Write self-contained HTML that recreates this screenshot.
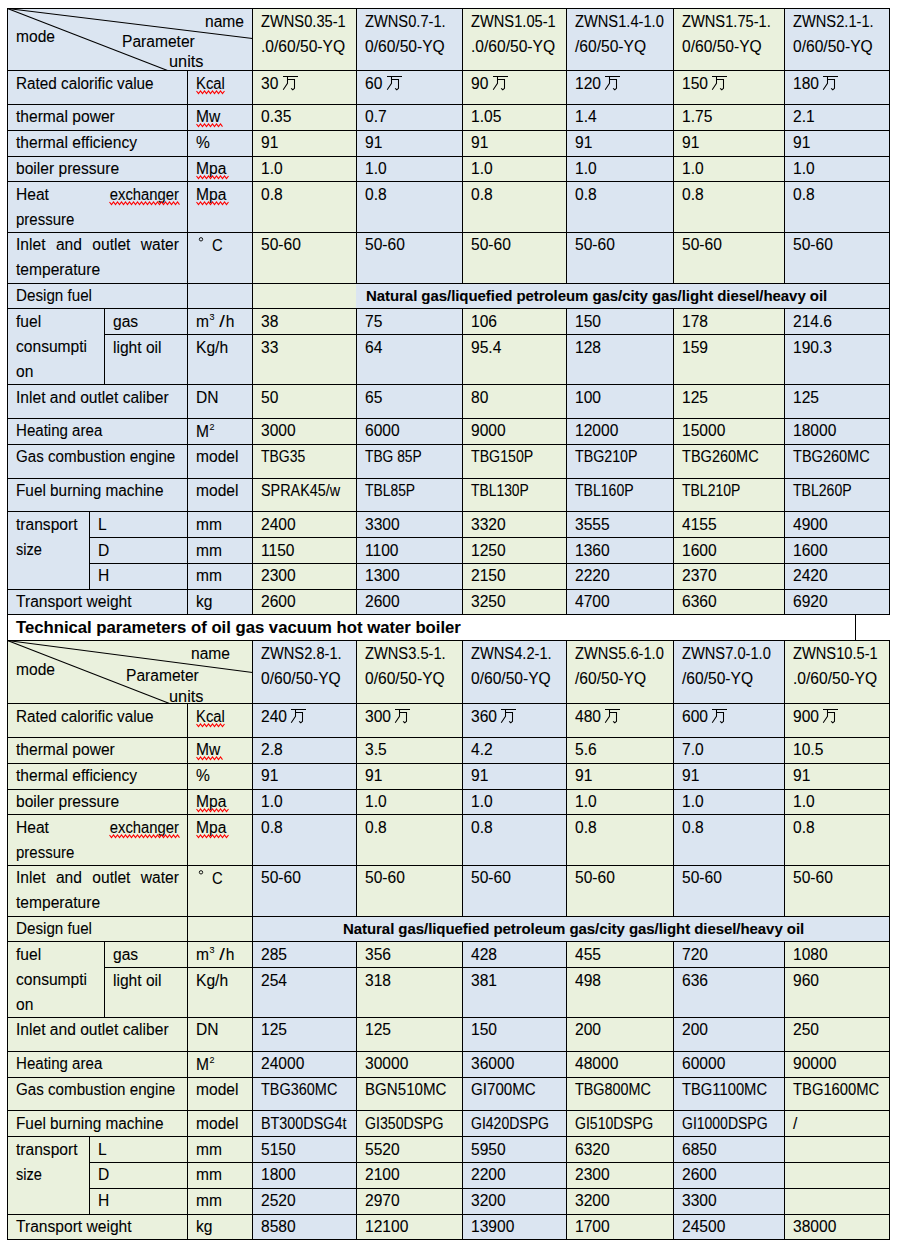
<!DOCTYPE html>
<html><head><meta charset="utf-8"><title>Technical parameters of oil gas vacuum hot water boiler</title><style>
html,body{margin:0;padding:0;background:#fff}
body{width:900px;height:1246px;position:relative;overflow:hidden}
.b,.l,.t,.tb,.z{position:absolute}
.l{background:#000}
.t,.tb{font-family:"Liberation Sans",sans-serif;font-size:15.6px;line-height:25px;white-space:nowrap;color:#000;-webkit-text-stroke:0.08px #000}
.tb{font-weight:bold;font-size:15px}
.z{overflow:visible}
</style></head><body>
<div class="b" style="left:7px;top:8px;width:245px;height:606px;background:#dbe5f1"></div>
<div class="b" style="left:252px;top:8px;width:104px;height:606px;background:#eaf1dd"></div>
<div class="b" style="left:356px;top:8px;width:106px;height:606px;background:#dbe5f1"></div>
<div class="b" style="left:462px;top:8px;width:104px;height:606px;background:#eaf1dd"></div>
<div class="b" style="left:566px;top:8px;width:107px;height:606px;background:#dbe5f1"></div>
<div class="b" style="left:673px;top:8px;width:111px;height:606px;background:#eaf1dd"></div>
<div class="b" style="left:784px;top:8px;width:105px;height:606px;background:#dbe5f1"></div>
<div class="b" style="left:356px;top:284px;width:533px;height:24px;background:#dbe5f1"></div>
<div class="l" style="left:7px;top:8px;width:883px;height:1px"></div>
<div class="l" style="left:7px;top:70px;width:883px;height:1px"></div>
<div class="l" style="left:7px;top:104px;width:883px;height:1px"></div>
<div class="l" style="left:7px;top:130px;width:883px;height:1px"></div>
<div class="l" style="left:7px;top:156px;width:883px;height:1px"></div>
<div class="l" style="left:7px;top:181px;width:883px;height:1px"></div>
<div class="l" style="left:7px;top:232px;width:883px;height:1px"></div>
<div class="l" style="left:7px;top:283px;width:883px;height:1px"></div>
<div class="l" style="left:7px;top:308px;width:883px;height:1px"></div>
<div class="l" style="left:7px;top:384px;width:883px;height:1px"></div>
<div class="l" style="left:7px;top:418px;width:883px;height:1px"></div>
<div class="l" style="left:7px;top:444px;width:883px;height:1px"></div>
<div class="l" style="left:7px;top:478px;width:883px;height:1px"></div>
<div class="l" style="left:7px;top:511px;width:883px;height:1px"></div>
<div class="l" style="left:7px;top:589px;width:883px;height:1px"></div>
<div class="l" style="left:7px;top:614px;width:883px;height:1px"></div>
<div class="l" style="left:104px;top:334px;width:786px;height:1px"></div>
<div class="l" style="left:89px;top:537px;width:801px;height:1px"></div>
<div class="l" style="left:89px;top:563px;width:801px;height:1px"></div>
<div class="l" style="left:7px;top:8px;width:1px;height:607px"></div>
<div class="l" style="left:889px;top:8px;width:1px;height:607px"></div>
<div class="l" style="left:252px;top:8px;width:1px;height:63px"></div>
<div class="l" style="left:356px;top:8px;width:1px;height:63px"></div>
<div class="l" style="left:462px;top:8px;width:1px;height:63px"></div>
<div class="l" style="left:566px;top:8px;width:1px;height:63px"></div>
<div class="l" style="left:673px;top:8px;width:1px;height:63px"></div>
<div class="l" style="left:784px;top:8px;width:1px;height:63px"></div>
<div class="l" style="left:187px;top:70px;width:1px;height:35px"></div>
<div class="l" style="left:252px;top:70px;width:1px;height:35px"></div>
<div class="l" style="left:356px;top:70px;width:1px;height:35px"></div>
<div class="l" style="left:462px;top:70px;width:1px;height:35px"></div>
<div class="l" style="left:566px;top:70px;width:1px;height:35px"></div>
<div class="l" style="left:673px;top:70px;width:1px;height:35px"></div>
<div class="l" style="left:784px;top:70px;width:1px;height:35px"></div>
<div class="l" style="left:187px;top:104px;width:1px;height:27px"></div>
<div class="l" style="left:252px;top:104px;width:1px;height:27px"></div>
<div class="l" style="left:356px;top:104px;width:1px;height:27px"></div>
<div class="l" style="left:462px;top:104px;width:1px;height:27px"></div>
<div class="l" style="left:566px;top:104px;width:1px;height:27px"></div>
<div class="l" style="left:673px;top:104px;width:1px;height:27px"></div>
<div class="l" style="left:784px;top:104px;width:1px;height:27px"></div>
<div class="l" style="left:187px;top:130px;width:1px;height:27px"></div>
<div class="l" style="left:252px;top:130px;width:1px;height:27px"></div>
<div class="l" style="left:356px;top:130px;width:1px;height:27px"></div>
<div class="l" style="left:462px;top:130px;width:1px;height:27px"></div>
<div class="l" style="left:566px;top:130px;width:1px;height:27px"></div>
<div class="l" style="left:673px;top:130px;width:1px;height:27px"></div>
<div class="l" style="left:784px;top:130px;width:1px;height:27px"></div>
<div class="l" style="left:187px;top:156px;width:1px;height:26px"></div>
<div class="l" style="left:252px;top:156px;width:1px;height:26px"></div>
<div class="l" style="left:356px;top:156px;width:1px;height:26px"></div>
<div class="l" style="left:462px;top:156px;width:1px;height:26px"></div>
<div class="l" style="left:566px;top:156px;width:1px;height:26px"></div>
<div class="l" style="left:673px;top:156px;width:1px;height:26px"></div>
<div class="l" style="left:784px;top:156px;width:1px;height:26px"></div>
<div class="l" style="left:187px;top:181px;width:1px;height:52px"></div>
<div class="l" style="left:252px;top:181px;width:1px;height:52px"></div>
<div class="l" style="left:356px;top:181px;width:1px;height:52px"></div>
<div class="l" style="left:462px;top:181px;width:1px;height:52px"></div>
<div class="l" style="left:566px;top:181px;width:1px;height:52px"></div>
<div class="l" style="left:673px;top:181px;width:1px;height:52px"></div>
<div class="l" style="left:784px;top:181px;width:1px;height:52px"></div>
<div class="l" style="left:187px;top:232px;width:1px;height:52px"></div>
<div class="l" style="left:252px;top:232px;width:1px;height:52px"></div>
<div class="l" style="left:356px;top:232px;width:1px;height:52px"></div>
<div class="l" style="left:462px;top:232px;width:1px;height:52px"></div>
<div class="l" style="left:566px;top:232px;width:1px;height:52px"></div>
<div class="l" style="left:673px;top:232px;width:1px;height:52px"></div>
<div class="l" style="left:784px;top:232px;width:1px;height:52px"></div>
<div class="l" style="left:187px;top:283px;width:1px;height:26px"></div>
<div class="l" style="left:252px;top:283px;width:1px;height:26px"></div>
<div class="l" style="left:187px;top:308px;width:1px;height:77px"></div>
<div class="l" style="left:252px;top:308px;width:1px;height:77px"></div>
<div class="l" style="left:356px;top:308px;width:1px;height:77px"></div>
<div class="l" style="left:462px;top:308px;width:1px;height:77px"></div>
<div class="l" style="left:566px;top:308px;width:1px;height:77px"></div>
<div class="l" style="left:673px;top:308px;width:1px;height:77px"></div>
<div class="l" style="left:784px;top:308px;width:1px;height:77px"></div>
<div class="l" style="left:104px;top:308px;width:1px;height:77px"></div>
<div class="l" style="left:187px;top:384px;width:1px;height:35px"></div>
<div class="l" style="left:252px;top:384px;width:1px;height:35px"></div>
<div class="l" style="left:356px;top:384px;width:1px;height:35px"></div>
<div class="l" style="left:462px;top:384px;width:1px;height:35px"></div>
<div class="l" style="left:566px;top:384px;width:1px;height:35px"></div>
<div class="l" style="left:673px;top:384px;width:1px;height:35px"></div>
<div class="l" style="left:784px;top:384px;width:1px;height:35px"></div>
<div class="l" style="left:187px;top:418px;width:1px;height:27px"></div>
<div class="l" style="left:252px;top:418px;width:1px;height:27px"></div>
<div class="l" style="left:356px;top:418px;width:1px;height:27px"></div>
<div class="l" style="left:462px;top:418px;width:1px;height:27px"></div>
<div class="l" style="left:566px;top:418px;width:1px;height:27px"></div>
<div class="l" style="left:673px;top:418px;width:1px;height:27px"></div>
<div class="l" style="left:784px;top:418px;width:1px;height:27px"></div>
<div class="l" style="left:187px;top:444px;width:1px;height:35px"></div>
<div class="l" style="left:252px;top:444px;width:1px;height:35px"></div>
<div class="l" style="left:356px;top:444px;width:1px;height:35px"></div>
<div class="l" style="left:462px;top:444px;width:1px;height:35px"></div>
<div class="l" style="left:566px;top:444px;width:1px;height:35px"></div>
<div class="l" style="left:673px;top:444px;width:1px;height:35px"></div>
<div class="l" style="left:784px;top:444px;width:1px;height:35px"></div>
<div class="l" style="left:187px;top:478px;width:1px;height:34px"></div>
<div class="l" style="left:252px;top:478px;width:1px;height:34px"></div>
<div class="l" style="left:356px;top:478px;width:1px;height:34px"></div>
<div class="l" style="left:462px;top:478px;width:1px;height:34px"></div>
<div class="l" style="left:566px;top:478px;width:1px;height:34px"></div>
<div class="l" style="left:673px;top:478px;width:1px;height:34px"></div>
<div class="l" style="left:784px;top:478px;width:1px;height:34px"></div>
<div class="l" style="left:187px;top:511px;width:1px;height:79px"></div>
<div class="l" style="left:252px;top:511px;width:1px;height:79px"></div>
<div class="l" style="left:356px;top:511px;width:1px;height:79px"></div>
<div class="l" style="left:462px;top:511px;width:1px;height:79px"></div>
<div class="l" style="left:566px;top:511px;width:1px;height:79px"></div>
<div class="l" style="left:673px;top:511px;width:1px;height:79px"></div>
<div class="l" style="left:784px;top:511px;width:1px;height:79px"></div>
<div class="l" style="left:89px;top:511px;width:1px;height:79px"></div>
<div class="l" style="left:187px;top:589px;width:1px;height:26px"></div>
<div class="l" style="left:252px;top:589px;width:1px;height:26px"></div>
<div class="l" style="left:356px;top:589px;width:1px;height:26px"></div>
<div class="l" style="left:462px;top:589px;width:1px;height:26px"></div>
<div class="l" style="left:566px;top:589px;width:1px;height:26px"></div>
<div class="l" style="left:673px;top:589px;width:1px;height:26px"></div>
<div class="l" style="left:784px;top:589px;width:1px;height:26px"></div>
<div class="l" style="left:7px;top:614px;width:1px;height:27px"></div>
<div class="l" style="left:855px;top:614px;width:1px;height:27px"></div>
<div class="b" style="left:7px;top:640px;width:245px;height:599px;background:#eaf1dd"></div>
<div class="b" style="left:252px;top:640px;width:104px;height:599px;background:#dbe5f1"></div>
<div class="b" style="left:356px;top:640px;width:106px;height:599px;background:#eaf1dd"></div>
<div class="b" style="left:462px;top:640px;width:104px;height:599px;background:#dbe5f1"></div>
<div class="b" style="left:566px;top:640px;width:107px;height:599px;background:#eaf1dd"></div>
<div class="b" style="left:673px;top:640px;width:111px;height:599px;background:#dbe5f1"></div>
<div class="b" style="left:784px;top:640px;width:105px;height:599px;background:#eaf1dd"></div>
<div class="b" style="left:253px;top:917px;width:636px;height:24px;background:#dbe5f1"></div>
<div class="l" style="left:7px;top:640px;width:883px;height:1px"></div>
<div class="l" style="left:7px;top:703px;width:883px;height:1px"></div>
<div class="l" style="left:7px;top:737px;width:883px;height:1px"></div>
<div class="l" style="left:7px;top:763px;width:883px;height:1px"></div>
<div class="l" style="left:7px;top:789px;width:883px;height:1px"></div>
<div class="l" style="left:7px;top:814px;width:883px;height:1px"></div>
<div class="l" style="left:7px;top:865px;width:883px;height:1px"></div>
<div class="l" style="left:7px;top:916px;width:883px;height:1px"></div>
<div class="l" style="left:7px;top:941px;width:883px;height:1px"></div>
<div class="l" style="left:7px;top:1017px;width:883px;height:1px"></div>
<div class="l" style="left:7px;top:1051px;width:883px;height:1px"></div>
<div class="l" style="left:7px;top:1077px;width:883px;height:1px"></div>
<div class="l" style="left:7px;top:1110px;width:883px;height:1px"></div>
<div class="l" style="left:7px;top:1136px;width:883px;height:1px"></div>
<div class="l" style="left:7px;top:1214px;width:883px;height:1px"></div>
<div class="l" style="left:7px;top:1239px;width:883px;height:1px"></div>
<div class="l" style="left:104px;top:967px;width:786px;height:1px"></div>
<div class="l" style="left:89px;top:1162px;width:801px;height:1px"></div>
<div class="l" style="left:89px;top:1188px;width:801px;height:1px"></div>
<div class="l" style="left:7px;top:640px;width:1px;height:600px"></div>
<div class="l" style="left:889px;top:640px;width:1px;height:600px"></div>
<div class="l" style="left:252px;top:640px;width:1px;height:64px"></div>
<div class="l" style="left:356px;top:640px;width:1px;height:64px"></div>
<div class="l" style="left:462px;top:640px;width:1px;height:64px"></div>
<div class="l" style="left:566px;top:640px;width:1px;height:64px"></div>
<div class="l" style="left:673px;top:640px;width:1px;height:64px"></div>
<div class="l" style="left:784px;top:640px;width:1px;height:64px"></div>
<div class="l" style="left:187px;top:703px;width:1px;height:35px"></div>
<div class="l" style="left:252px;top:703px;width:1px;height:35px"></div>
<div class="l" style="left:356px;top:703px;width:1px;height:35px"></div>
<div class="l" style="left:462px;top:703px;width:1px;height:35px"></div>
<div class="l" style="left:566px;top:703px;width:1px;height:35px"></div>
<div class="l" style="left:673px;top:703px;width:1px;height:35px"></div>
<div class="l" style="left:784px;top:703px;width:1px;height:35px"></div>
<div class="l" style="left:187px;top:737px;width:1px;height:27px"></div>
<div class="l" style="left:252px;top:737px;width:1px;height:27px"></div>
<div class="l" style="left:356px;top:737px;width:1px;height:27px"></div>
<div class="l" style="left:462px;top:737px;width:1px;height:27px"></div>
<div class="l" style="left:566px;top:737px;width:1px;height:27px"></div>
<div class="l" style="left:673px;top:737px;width:1px;height:27px"></div>
<div class="l" style="left:784px;top:737px;width:1px;height:27px"></div>
<div class="l" style="left:187px;top:763px;width:1px;height:27px"></div>
<div class="l" style="left:252px;top:763px;width:1px;height:27px"></div>
<div class="l" style="left:356px;top:763px;width:1px;height:27px"></div>
<div class="l" style="left:462px;top:763px;width:1px;height:27px"></div>
<div class="l" style="left:566px;top:763px;width:1px;height:27px"></div>
<div class="l" style="left:673px;top:763px;width:1px;height:27px"></div>
<div class="l" style="left:784px;top:763px;width:1px;height:27px"></div>
<div class="l" style="left:187px;top:789px;width:1px;height:26px"></div>
<div class="l" style="left:252px;top:789px;width:1px;height:26px"></div>
<div class="l" style="left:356px;top:789px;width:1px;height:26px"></div>
<div class="l" style="left:462px;top:789px;width:1px;height:26px"></div>
<div class="l" style="left:566px;top:789px;width:1px;height:26px"></div>
<div class="l" style="left:673px;top:789px;width:1px;height:26px"></div>
<div class="l" style="left:784px;top:789px;width:1px;height:26px"></div>
<div class="l" style="left:187px;top:814px;width:1px;height:52px"></div>
<div class="l" style="left:252px;top:814px;width:1px;height:52px"></div>
<div class="l" style="left:356px;top:814px;width:1px;height:52px"></div>
<div class="l" style="left:462px;top:814px;width:1px;height:52px"></div>
<div class="l" style="left:566px;top:814px;width:1px;height:52px"></div>
<div class="l" style="left:673px;top:814px;width:1px;height:52px"></div>
<div class="l" style="left:784px;top:814px;width:1px;height:52px"></div>
<div class="l" style="left:187px;top:865px;width:1px;height:52px"></div>
<div class="l" style="left:252px;top:865px;width:1px;height:52px"></div>
<div class="l" style="left:356px;top:865px;width:1px;height:52px"></div>
<div class="l" style="left:462px;top:865px;width:1px;height:52px"></div>
<div class="l" style="left:566px;top:865px;width:1px;height:52px"></div>
<div class="l" style="left:673px;top:865px;width:1px;height:52px"></div>
<div class="l" style="left:784px;top:865px;width:1px;height:52px"></div>
<div class="l" style="left:187px;top:916px;width:1px;height:26px"></div>
<div class="l" style="left:252px;top:916px;width:1px;height:26px"></div>
<div class="l" style="left:187px;top:941px;width:1px;height:77px"></div>
<div class="l" style="left:252px;top:941px;width:1px;height:77px"></div>
<div class="l" style="left:356px;top:941px;width:1px;height:77px"></div>
<div class="l" style="left:462px;top:941px;width:1px;height:77px"></div>
<div class="l" style="left:566px;top:941px;width:1px;height:77px"></div>
<div class="l" style="left:673px;top:941px;width:1px;height:77px"></div>
<div class="l" style="left:784px;top:941px;width:1px;height:77px"></div>
<div class="l" style="left:104px;top:941px;width:1px;height:77px"></div>
<div class="l" style="left:187px;top:1017px;width:1px;height:35px"></div>
<div class="l" style="left:252px;top:1017px;width:1px;height:35px"></div>
<div class="l" style="left:356px;top:1017px;width:1px;height:35px"></div>
<div class="l" style="left:462px;top:1017px;width:1px;height:35px"></div>
<div class="l" style="left:566px;top:1017px;width:1px;height:35px"></div>
<div class="l" style="left:673px;top:1017px;width:1px;height:35px"></div>
<div class="l" style="left:784px;top:1017px;width:1px;height:35px"></div>
<div class="l" style="left:187px;top:1051px;width:1px;height:27px"></div>
<div class="l" style="left:252px;top:1051px;width:1px;height:27px"></div>
<div class="l" style="left:356px;top:1051px;width:1px;height:27px"></div>
<div class="l" style="left:462px;top:1051px;width:1px;height:27px"></div>
<div class="l" style="left:566px;top:1051px;width:1px;height:27px"></div>
<div class="l" style="left:673px;top:1051px;width:1px;height:27px"></div>
<div class="l" style="left:784px;top:1051px;width:1px;height:27px"></div>
<div class="l" style="left:187px;top:1077px;width:1px;height:34px"></div>
<div class="l" style="left:252px;top:1077px;width:1px;height:34px"></div>
<div class="l" style="left:356px;top:1077px;width:1px;height:34px"></div>
<div class="l" style="left:462px;top:1077px;width:1px;height:34px"></div>
<div class="l" style="left:566px;top:1077px;width:1px;height:34px"></div>
<div class="l" style="left:673px;top:1077px;width:1px;height:34px"></div>
<div class="l" style="left:784px;top:1077px;width:1px;height:34px"></div>
<div class="l" style="left:187px;top:1110px;width:1px;height:27px"></div>
<div class="l" style="left:252px;top:1110px;width:1px;height:27px"></div>
<div class="l" style="left:356px;top:1110px;width:1px;height:27px"></div>
<div class="l" style="left:462px;top:1110px;width:1px;height:27px"></div>
<div class="l" style="left:566px;top:1110px;width:1px;height:27px"></div>
<div class="l" style="left:673px;top:1110px;width:1px;height:27px"></div>
<div class="l" style="left:784px;top:1110px;width:1px;height:27px"></div>
<div class="l" style="left:187px;top:1136px;width:1px;height:79px"></div>
<div class="l" style="left:252px;top:1136px;width:1px;height:79px"></div>
<div class="l" style="left:356px;top:1136px;width:1px;height:79px"></div>
<div class="l" style="left:462px;top:1136px;width:1px;height:79px"></div>
<div class="l" style="left:566px;top:1136px;width:1px;height:79px"></div>
<div class="l" style="left:673px;top:1136px;width:1px;height:79px"></div>
<div class="l" style="left:784px;top:1136px;width:1px;height:79px"></div>
<div class="l" style="left:89px;top:1136px;width:1px;height:79px"></div>
<div class="l" style="left:187px;top:1214px;width:1px;height:26px"></div>
<div class="l" style="left:252px;top:1214px;width:1px;height:26px"></div>
<div class="l" style="left:356px;top:1214px;width:1px;height:26px"></div>
<div class="l" style="left:462px;top:1214px;width:1px;height:26px"></div>
<div class="l" style="left:566px;top:1214px;width:1px;height:26px"></div>
<div class="l" style="left:673px;top:1214px;width:1px;height:26px"></div>
<div class="l" style="left:784px;top:1214px;width:1px;height:26px"></div>
<svg class="z" style="left:7px;top:8px" width="246" height="63"><line x1="0.5" y1="0.5" x2="245.5" y2="30.5" stroke="#000" stroke-width="1.1"/><line x1="0.5" y1="0.5" x2="160.5" y2="62.5" stroke="#000" stroke-width="1.1"/></svg>
<div class="t" style="left:205px;top:9px;">name</div>
<div class="t" style="left:16px;top:24px;">mode</div>
<div class="t" style="left:122px;top:29px;">Parameter</div>
<div class="t" style="left:169px;top:49px;transform:scaleX(1.047);transform-origin:0 0;">units</div>
<div class="t" style="left:261px;top:9px;transform:scaleX(0.94);transform-origin:0 0;">ZWNS0.35-1</div>
<div class="t" style="left:261px;top:34px;">.0/60/50-YQ</div>
<div class="t" style="left:365px;top:9px;transform:scaleX(0.94);transform-origin:0 0;">ZWNS0.7-1.</div>
<div class="t" style="left:365px;top:34px;">0/60/50-YQ</div>
<div class="t" style="left:471px;top:9px;transform:scaleX(0.94);transform-origin:0 0;">ZWNS1.05-1</div>
<div class="t" style="left:471px;top:34px;">.0/60/50-YQ</div>
<div class="t" style="left:575px;top:9px;transform:scaleX(0.94);transform-origin:0 0;">ZWNS1.4-1.0</div>
<div class="t" style="left:575px;top:34px;">/60/50-YQ</div>
<div class="t" style="left:682px;top:9px;transform:scaleX(0.94);transform-origin:0 0;">ZWNS1.75-1.</div>
<div class="t" style="left:682px;top:34px;">0/60/50-YQ</div>
<div class="t" style="left:793px;top:9px;transform:scaleX(0.94);transform-origin:0 0;">ZWNS2.1-1.</div>
<div class="t" style="left:793px;top:34px;">0/60/50-YQ</div>
<div class="t" style="left:16px;top:71px;transform:scaleX(0.98);transform-origin:0 0;">Rated calorific value</div>
<div class="t" style="left:196px;top:71px;transform:scaleX(0.95);transform-origin:0 0;">Kcal</div>
<svg class="z" style="left:196px;top:89px" width="30" height="7"><polyline points="0.5,2.0 2.5,4.6 4.5,2.0 6.5,4.6 8.5,2.0 10.5,4.6 12.5,2.0 14.5,4.6 16.5,2.0 18.5,4.6 20.5,2.0 22.5,4.6 24.5,2.0 26.5,4.6 28.5,2.0" fill="none" stroke="#f00" stroke-width="1.1"/></svg>
<div class="t" style="left:261px;top:71px;">30</div>
<svg class="z" style="left:283px;top:75px" width="17" height="16" viewBox="0 0 17 16"><path d="M0 1.5H15 M4.5 1.5V8.3L0.2 14.7 M4.5 4.5H11.5V13.3L9.8 14.7L8.1 13.3" fill="none" stroke="#000" stroke-width="1.05"/></svg>
<div class="t" style="left:365px;top:71px;">60</div>
<svg class="z" style="left:387px;top:75px" width="17" height="16" viewBox="0 0 17 16"><path d="M0 1.5H15 M4.5 1.5V8.3L0.2 14.7 M4.5 4.5H11.5V13.3L9.8 14.7L8.1 13.3" fill="none" stroke="#000" stroke-width="1.05"/></svg>
<div class="t" style="left:471px;top:71px;">90</div>
<svg class="z" style="left:493px;top:75px" width="17" height="16" viewBox="0 0 17 16"><path d="M0 1.5H15 M4.5 1.5V8.3L0.2 14.7 M4.5 4.5H11.5V13.3L9.8 14.7L8.1 13.3" fill="none" stroke="#000" stroke-width="1.05"/></svg>
<div class="t" style="left:575px;top:71px;">120</div>
<svg class="z" style="left:605px;top:75px" width="17" height="16" viewBox="0 0 17 16"><path d="M0 1.5H15 M4.5 1.5V8.3L0.2 14.7 M4.5 4.5H11.5V13.3L9.8 14.7L8.1 13.3" fill="none" stroke="#000" stroke-width="1.05"/></svg>
<div class="t" style="left:682px;top:71px;">150</div>
<svg class="z" style="left:712px;top:75px" width="17" height="16" viewBox="0 0 17 16"><path d="M0 1.5H15 M4.5 1.5V8.3L0.2 14.7 M4.5 4.5H11.5V13.3L9.8 14.7L8.1 13.3" fill="none" stroke="#000" stroke-width="1.05"/></svg>
<div class="t" style="left:793px;top:71px;">180</div>
<svg class="z" style="left:823px;top:75px" width="17" height="16" viewBox="0 0 17 16"><path d="M0 1.5H15 M4.5 1.5V8.3L0.2 14.7 M4.5 4.5H11.5V13.3L9.8 14.7L8.1 13.3" fill="none" stroke="#000" stroke-width="1.05"/></svg>
<div class="t" style="left:16px;top:104px;">thermal power</div>
<div class="t" style="left:196px;top:104px;">Mw</div>
<svg class="z" style="left:196px;top:122px" width="28" height="7"><polyline points="0.5,2.0 2.5,4.6 4.5,2.0 6.5,4.6 8.5,2.0 10.5,4.6 12.5,2.0 14.5,4.6 16.5,2.0 18.5,4.6 20.5,2.0 22.5,4.6 24.5,2.0 26.5,4.6" fill="none" stroke="#f00" stroke-width="1.1"/></svg>
<div class="t" style="left:261px;top:104px;">0.35</div>
<div class="t" style="left:365px;top:104px;">0.7</div>
<div class="t" style="left:471px;top:104px;">1.05</div>
<div class="t" style="left:575px;top:104px;">1.4</div>
<div class="t" style="left:682px;top:104px;">1.75</div>
<div class="t" style="left:793px;top:104px;">2.1</div>
<div class="t" style="left:16px;top:130px;">thermal efficiency</div>
<div class="t" style="left:196px;top:130px;">%</div>
<div class="t" style="left:261px;top:130px;">91</div>
<div class="t" style="left:365px;top:130px;">91</div>
<div class="t" style="left:471px;top:130px;">91</div>
<div class="t" style="left:575px;top:130px;">91</div>
<div class="t" style="left:682px;top:130px;">91</div>
<div class="t" style="left:793px;top:130px;">91</div>
<div class="t" style="left:16px;top:156px;">boiler pressure</div>
<div class="t" style="left:196px;top:156px;">Mpa</div>
<svg class="z" style="left:196px;top:174px" width="34" height="7"><polyline points="0.5,2.0 2.5,4.6 4.5,2.0 6.5,4.6 8.5,2.0 10.5,4.6 12.5,2.0 14.5,4.6 16.5,2.0 18.5,4.6 20.5,2.0 22.5,4.6 24.5,2.0 26.5,4.6 28.5,2.0 30.5,4.6 32.5,2.0" fill="none" stroke="#f00" stroke-width="1.1"/></svg>
<div class="t" style="left:261px;top:156px;">1.0</div>
<div class="t" style="left:365px;top:156px;">1.0</div>
<div class="t" style="left:471px;top:156px;">1.0</div>
<div class="t" style="left:575px;top:156px;">1.0</div>
<div class="t" style="left:682px;top:156px;">1.0</div>
<div class="t" style="left:793px;top:156px;">1.0</div>
<div class="t" style="left:16px;top:182px;">Heat</div>
<div class="t" style="left:179px;top:182px;transform:translateX(-100%) scaleX(0.95);transform-origin:100% 0;">exchanger</div>
<svg class="z" style="left:109px;top:200px" width="72" height="7"><polyline points="0.5,2.0 2.5,4.6 4.5,2.0 6.5,4.6 8.5,2.0 10.5,4.6 12.5,2.0 14.5,4.6 16.5,2.0 18.5,4.6 20.5,2.0 22.5,4.6 24.5,2.0 26.5,4.6 28.5,2.0 30.5,4.6 32.5,2.0 34.5,4.6 36.5,2.0 38.5,4.6 40.5,2.0 42.5,4.6 44.5,2.0 46.5,4.6 48.5,2.0 50.5,4.6 52.5,2.0 54.5,4.6 56.5,2.0 58.5,4.6 60.5,2.0 62.5,4.6 64.5,2.0 66.5,4.6 68.5,2.0 70.5,4.6" fill="none" stroke="#f00" stroke-width="1.1"/></svg>
<div class="t" style="left:16px;top:207px;transform:scaleX(0.961);transform-origin:0 0;">pressure</div>
<div class="t" style="left:196px;top:182px;">Mpa</div>
<svg class="z" style="left:196px;top:200px" width="34" height="7"><polyline points="0.5,2.0 2.5,4.6 4.5,2.0 6.5,4.6 8.5,2.0 10.5,4.6 12.5,2.0 14.5,4.6 16.5,2.0 18.5,4.6 20.5,2.0 22.5,4.6 24.5,2.0 26.5,4.6 28.5,2.0 30.5,4.6 32.5,2.0" fill="none" stroke="#f00" stroke-width="1.1"/></svg>
<div class="t" style="left:261px;top:182px;">0.8</div>
<div class="t" style="left:365px;top:182px;">0.8</div>
<div class="t" style="left:471px;top:182px;">0.8</div>
<div class="t" style="left:575px;top:182px;">0.8</div>
<div class="t" style="left:682px;top:182px;">0.8</div>
<div class="t" style="left:793px;top:182px;">0.8</div>
<div class="t" style="left:16px;top:232px;width:163px;display:flex;justify-content:space-between"><span>Inlet</span><span>and</span><span>outlet</span><span>water</span></div>
<div class="t" style="left:16px;top:257px;">temperature</div>
<svg class="z" style="left:198px;top:236px" width="7" height="7"><circle cx="3" cy="3.3" r="1.7" fill="none" stroke="#000" stroke-width="0.9"/></svg>
<div class="t" style="left:212px;top:233px;transform:scaleX(0.95);transform-origin:0 0;">C</div>
<div class="t" style="left:261px;top:232px;">50-60</div>
<div class="t" style="left:365px;top:232px;">50-60</div>
<div class="t" style="left:471px;top:232px;">50-60</div>
<div class="t" style="left:575px;top:232px;">50-60</div>
<div class="t" style="left:682px;top:232px;">50-60</div>
<div class="t" style="left:793px;top:232px;">50-60</div>
<div class="t" style="left:16px;top:283px;transform:scaleX(0.974);transform-origin:0 0;">Design fuel</div>
<div class="tb" style="left:366px;top:283px;letter-spacing:-0.06px">Natural gas/liquefied petroleum gas/city gas/light diesel/heavy oil</div>
<div class="t" style="left:16px;top:309px;">fuel</div>
<div class="t" style="left:16px;top:334px;">consumpti</div>
<div class="t" style="left:16px;top:359px;">on</div>
<div class="t" style="left:113px;top:309px;">gas</div>
<div class="t" style="left:196px;top:309px;">m<span style='font-size:9px;position:relative;top:-7px;margin-left:0.5px'>3</span> <span style='display:inline-block;transform:scaleX(1.3);margin:0 1.5px 0 1px'>/</span>h</div>
<div class="t" style="left:261px;top:309px;">38</div>
<div class="t" style="left:365px;top:309px;">75</div>
<div class="t" style="left:471px;top:309px;">106</div>
<div class="t" style="left:575px;top:309px;">150</div>
<div class="t" style="left:682px;top:309px;">178</div>
<div class="t" style="left:793px;top:309px;">214.6</div>
<div class="t" style="left:113px;top:335px;">light oil</div>
<div class="t" style="left:196px;top:335px;">Kg/h</div>
<div class="t" style="left:261px;top:335px;">33</div>
<div class="t" style="left:365px;top:335px;">64</div>
<div class="t" style="left:471px;top:335px;">95.4</div>
<div class="t" style="left:575px;top:335px;">128</div>
<div class="t" style="left:682px;top:335px;">159</div>
<div class="t" style="left:793px;top:335px;">190.3</div>
<div class="t" style="left:16px;top:385px;">Inlet and outlet caliber</div>
<div class="t" style="left:196px;top:385px;">DN</div>
<div class="t" style="left:261px;top:385px;">50</div>
<div class="t" style="left:365px;top:385px;">65</div>
<div class="t" style="left:471px;top:385px;">80</div>
<div class="t" style="left:575px;top:385px;">100</div>
<div class="t" style="left:682px;top:385px;">125</div>
<div class="t" style="left:793px;top:385px;">125</div>
<div class="t" style="left:16px;top:418px;transform:scaleX(0.966);transform-origin:0 0;">Heating area</div>
<div class="t" style="left:196px;top:419px;">M<span style='font-size:9px;position:relative;top:-7px;margin-left:0.5px'>2</span></div>
<div class="t" style="left:261px;top:418px;">3000</div>
<div class="t" style="left:365px;top:418px;">6000</div>
<div class="t" style="left:471px;top:418px;">9000</div>
<div class="t" style="left:575px;top:418px;">12000</div>
<div class="t" style="left:682px;top:418px;">15000</div>
<div class="t" style="left:793px;top:418px;">18000</div>
<div class="t" style="left:16px;top:444px;transform:scaleX(0.972);transform-origin:0 0;">Gas combustion engine</div>
<div class="t" style="left:196px;top:444px;">model</div>
<div class="t" style="left:261px;top:444px;transform:scaleX(0.894);transform-origin:0 0;">TBG35</div>
<div class="t" style="left:365px;top:444px;transform:scaleX(0.883);transform-origin:0 0;">TBG 85P</div>
<div class="t" style="left:471px;top:444px;transform:scaleX(0.909);transform-origin:0 0;">TBG150P</div>
<div class="t" style="left:575px;top:444px;transform:scaleX(0.913);transform-origin:0 0;">TBG210P</div>
<div class="t" style="left:682px;top:444px;transform:scaleX(0.932);transform-origin:0 0;">TBG260MC</div>
<div class="t" style="left:793px;top:444px;transform:scaleX(0.932);transform-origin:0 0;">TBG260MC</div>
<div class="t" style="left:16px;top:478px;transform:scaleX(0.983);transform-origin:0 0;">Fuel burning machine</div>
<div class="t" style="left:196px;top:478px;">model</div>
<div class="t" style="left:261px;top:478px;transform:scaleX(0.922);transform-origin:0 0;">SPRAK45/w</div>
<div class="t" style="left:365px;top:478px;transform:scaleX(0.889);transform-origin:0 0;">TBL85P</div>
<div class="t" style="left:471px;top:478px;transform:scaleX(0.889);transform-origin:0 0;">TBL130P</div>
<div class="t" style="left:575px;top:478px;transform:scaleX(0.902);transform-origin:0 0;">TBL160P</div>
<div class="t" style="left:682px;top:478px;transform:scaleX(0.897);transform-origin:0 0;">TBL210P</div>
<div class="t" style="left:793px;top:478px;transform:scaleX(0.902);transform-origin:0 0;">TBL260P</div>
<div class="t" style="left:16px;top:512px;">transport</div>
<div class="t" style="left:16px;top:537px;transform:scaleX(0.935);transform-origin:0 0;">size</div>
<div class="t" style="left:98px;top:512px;">L</div>
<div class="t" style="left:196px;top:512px;">mm</div>
<div class="t" style="left:261px;top:512px;">2400</div>
<div class="t" style="left:365px;top:512px;">3300</div>
<div class="t" style="left:471px;top:512px;">3320</div>
<div class="t" style="left:575px;top:512px;">3555</div>
<div class="t" style="left:682px;top:512px;">4155</div>
<div class="t" style="left:793px;top:512px;">4900</div>
<div class="t" style="left:98px;top:538px;">D</div>
<div class="t" style="left:196px;top:538px;">mm</div>
<div class="t" style="left:261px;top:538px;">1150</div>
<div class="t" style="left:365px;top:538px;">1100</div>
<div class="t" style="left:471px;top:538px;">1250</div>
<div class="t" style="left:575px;top:538px;">1360</div>
<div class="t" style="left:682px;top:538px;">1600</div>
<div class="t" style="left:793px;top:538px;">1600</div>
<div class="t" style="left:98px;top:563px;">H</div>
<div class="t" style="left:196px;top:563px;">mm</div>
<div class="t" style="left:261px;top:563px;">2300</div>
<div class="t" style="left:365px;top:563px;">1300</div>
<div class="t" style="left:471px;top:563px;">2150</div>
<div class="t" style="left:575px;top:563px;">2220</div>
<div class="t" style="left:682px;top:563px;">2370</div>
<div class="t" style="left:793px;top:563px;">2420</div>
<div class="t" style="left:16px;top:589px;">Transport weight</div>
<div class="t" style="left:196px;top:589px;">kg</div>
<div class="t" style="left:261px;top:589px;">2600</div>
<div class="t" style="left:365px;top:589px;">2600</div>
<div class="t" style="left:471px;top:589px;">3250</div>
<div class="t" style="left:575px;top:589px;">4700</div>
<div class="t" style="left:682px;top:589px;">6360</div>
<div class="t" style="left:793px;top:589px;">6920</div>
<div class="tb" style="left:16px;top:615px;font-size:16.7px">Technical parameters of oil gas vacuum hot water boiler</div>
<svg class="z" style="left:7px;top:640px" width="246" height="64"><line x1="0.5" y1="0.5" x2="245.5" y2="32.5" stroke="#000" stroke-width="1.1"/><line x1="0.5" y1="0.5" x2="162.5" y2="63.5" stroke="#000" stroke-width="1.1"/></svg>
<div class="t" style="left:191px;top:641px;">name</div>
<div class="t" style="left:16px;top:657px;">mode</div>
<div class="t" style="left:126px;top:663px;">Parameter</div>
<div class="t" style="left:169px;top:684px;transform:scaleX(1.047);transform-origin:0 0;">units</div>
<div class="t" style="left:261px;top:641px;transform:scaleX(0.94);transform-origin:0 0;">ZWNS2.8-1.</div>
<div class="t" style="left:261px;top:666px;">0/60/50-YQ</div>
<div class="t" style="left:365px;top:641px;transform:scaleX(0.94);transform-origin:0 0;">ZWNS3.5-1.</div>
<div class="t" style="left:365px;top:666px;">0/60/50-YQ</div>
<div class="t" style="left:471px;top:641px;transform:scaleX(0.94);transform-origin:0 0;">ZWNS4.2-1.</div>
<div class="t" style="left:471px;top:666px;">0/60/50-YQ</div>
<div class="t" style="left:575px;top:641px;transform:scaleX(0.94);transform-origin:0 0;">ZWNS5.6-1.0</div>
<div class="t" style="left:575px;top:666px;">/60/50-YQ</div>
<div class="t" style="left:682px;top:641px;transform:scaleX(0.94);transform-origin:0 0;">ZWNS7.0-1.0</div>
<div class="t" style="left:682px;top:666px;">/60/50-YQ</div>
<div class="t" style="left:793px;top:641px;transform:scaleX(0.94);transform-origin:0 0;">ZWNS10.5-1</div>
<div class="t" style="left:793px;top:666px;">.0/60/50-YQ</div>
<div class="t" style="left:16px;top:704px;transform:scaleX(0.98);transform-origin:0 0;">Rated calorific value</div>
<div class="t" style="left:196px;top:704px;transform:scaleX(0.95);transform-origin:0 0;">Kcal</div>
<svg class="z" style="left:196px;top:722px" width="30" height="7"><polyline points="0.5,2.0 2.5,4.6 4.5,2.0 6.5,4.6 8.5,2.0 10.5,4.6 12.5,2.0 14.5,4.6 16.5,2.0 18.5,4.6 20.5,2.0 22.5,4.6 24.5,2.0 26.5,4.6 28.5,2.0" fill="none" stroke="#f00" stroke-width="1.1"/></svg>
<div class="t" style="left:261px;top:704px;">240</div>
<svg class="z" style="left:291px;top:708px" width="17" height="16" viewBox="0 0 17 16"><path d="M0 1.5H15 M4.5 1.5V8.3L0.2 14.7 M4.5 4.5H11.5V13.3L9.8 14.7L8.1 13.3" fill="none" stroke="#000" stroke-width="1.05"/></svg>
<div class="t" style="left:365px;top:704px;">300</div>
<svg class="z" style="left:395px;top:708px" width="17" height="16" viewBox="0 0 17 16"><path d="M0 1.5H15 M4.5 1.5V8.3L0.2 14.7 M4.5 4.5H11.5V13.3L9.8 14.7L8.1 13.3" fill="none" stroke="#000" stroke-width="1.05"/></svg>
<div class="t" style="left:471px;top:704px;">360</div>
<svg class="z" style="left:501px;top:708px" width="17" height="16" viewBox="0 0 17 16"><path d="M0 1.5H15 M4.5 1.5V8.3L0.2 14.7 M4.5 4.5H11.5V13.3L9.8 14.7L8.1 13.3" fill="none" stroke="#000" stroke-width="1.05"/></svg>
<div class="t" style="left:575px;top:704px;">480</div>
<svg class="z" style="left:605px;top:708px" width="17" height="16" viewBox="0 0 17 16"><path d="M0 1.5H15 M4.5 1.5V8.3L0.2 14.7 M4.5 4.5H11.5V13.3L9.8 14.7L8.1 13.3" fill="none" stroke="#000" stroke-width="1.05"/></svg>
<div class="t" style="left:682px;top:704px;">600</div>
<svg class="z" style="left:712px;top:708px" width="17" height="16" viewBox="0 0 17 16"><path d="M0 1.5H15 M4.5 1.5V8.3L0.2 14.7 M4.5 4.5H11.5V13.3L9.8 14.7L8.1 13.3" fill="none" stroke="#000" stroke-width="1.05"/></svg>
<div class="t" style="left:793px;top:704px;">900</div>
<svg class="z" style="left:823px;top:708px" width="17" height="16" viewBox="0 0 17 16"><path d="M0 1.5H15 M4.5 1.5V8.3L0.2 14.7 M4.5 4.5H11.5V13.3L9.8 14.7L8.1 13.3" fill="none" stroke="#000" stroke-width="1.05"/></svg>
<div class="t" style="left:16px;top:737px;">thermal power</div>
<div class="t" style="left:196px;top:737px;">Mw</div>
<svg class="z" style="left:196px;top:755px" width="28" height="7"><polyline points="0.5,2.0 2.5,4.6 4.5,2.0 6.5,4.6 8.5,2.0 10.5,4.6 12.5,2.0 14.5,4.6 16.5,2.0 18.5,4.6 20.5,2.0 22.5,4.6 24.5,2.0 26.5,4.6" fill="none" stroke="#f00" stroke-width="1.1"/></svg>
<div class="t" style="left:261px;top:737px;">2.8</div>
<div class="t" style="left:365px;top:737px;">3.5</div>
<div class="t" style="left:471px;top:737px;">4.2</div>
<div class="t" style="left:575px;top:737px;">5.6</div>
<div class="t" style="left:682px;top:737px;">7.0</div>
<div class="t" style="left:793px;top:737px;">10.5</div>
<div class="t" style="left:16px;top:763px;">thermal efficiency</div>
<div class="t" style="left:196px;top:763px;">%</div>
<div class="t" style="left:261px;top:763px;">91</div>
<div class="t" style="left:365px;top:763px;">91</div>
<div class="t" style="left:471px;top:763px;">91</div>
<div class="t" style="left:575px;top:763px;">91</div>
<div class="t" style="left:682px;top:763px;">91</div>
<div class="t" style="left:793px;top:763px;">91</div>
<div class="t" style="left:16px;top:789px;">boiler pressure</div>
<div class="t" style="left:196px;top:789px;">Mpa</div>
<svg class="z" style="left:196px;top:807px" width="34" height="7"><polyline points="0.5,2.0 2.5,4.6 4.5,2.0 6.5,4.6 8.5,2.0 10.5,4.6 12.5,2.0 14.5,4.6 16.5,2.0 18.5,4.6 20.5,2.0 22.5,4.6 24.5,2.0 26.5,4.6 28.5,2.0 30.5,4.6 32.5,2.0" fill="none" stroke="#f00" stroke-width="1.1"/></svg>
<div class="t" style="left:261px;top:789px;">1.0</div>
<div class="t" style="left:365px;top:789px;">1.0</div>
<div class="t" style="left:471px;top:789px;">1.0</div>
<div class="t" style="left:575px;top:789px;">1.0</div>
<div class="t" style="left:682px;top:789px;">1.0</div>
<div class="t" style="left:793px;top:789px;">1.0</div>
<div class="t" style="left:16px;top:815px;">Heat</div>
<div class="t" style="left:179px;top:815px;transform:translateX(-100%) scaleX(0.95);transform-origin:100% 0;">exchanger</div>
<svg class="z" style="left:109px;top:833px" width="72" height="7"><polyline points="0.5,2.0 2.5,4.6 4.5,2.0 6.5,4.6 8.5,2.0 10.5,4.6 12.5,2.0 14.5,4.6 16.5,2.0 18.5,4.6 20.5,2.0 22.5,4.6 24.5,2.0 26.5,4.6 28.5,2.0 30.5,4.6 32.5,2.0 34.5,4.6 36.5,2.0 38.5,4.6 40.5,2.0 42.5,4.6 44.5,2.0 46.5,4.6 48.5,2.0 50.5,4.6 52.5,2.0 54.5,4.6 56.5,2.0 58.5,4.6 60.5,2.0 62.5,4.6 64.5,2.0 66.5,4.6 68.5,2.0 70.5,4.6" fill="none" stroke="#f00" stroke-width="1.1"/></svg>
<div class="t" style="left:16px;top:840px;transform:scaleX(0.961);transform-origin:0 0;">pressure</div>
<div class="t" style="left:196px;top:815px;">Mpa</div>
<svg class="z" style="left:196px;top:833px" width="34" height="7"><polyline points="0.5,2.0 2.5,4.6 4.5,2.0 6.5,4.6 8.5,2.0 10.5,4.6 12.5,2.0 14.5,4.6 16.5,2.0 18.5,4.6 20.5,2.0 22.5,4.6 24.5,2.0 26.5,4.6 28.5,2.0 30.5,4.6 32.5,2.0" fill="none" stroke="#f00" stroke-width="1.1"/></svg>
<div class="t" style="left:261px;top:815px;">0.8</div>
<div class="t" style="left:365px;top:815px;">0.8</div>
<div class="t" style="left:471px;top:815px;">0.8</div>
<div class="t" style="left:575px;top:815px;">0.8</div>
<div class="t" style="left:682px;top:815px;">0.8</div>
<div class="t" style="left:793px;top:815px;">0.8</div>
<div class="t" style="left:16px;top:865px;width:163px;display:flex;justify-content:space-between"><span>Inlet</span><span>and</span><span>outlet</span><span>water</span></div>
<div class="t" style="left:16px;top:890px;">temperature</div>
<svg class="z" style="left:198px;top:869px" width="7" height="7"><circle cx="3" cy="3.3" r="1.7" fill="none" stroke="#000" stroke-width="0.9"/></svg>
<div class="t" style="left:212px;top:866px;transform:scaleX(0.95);transform-origin:0 0;">C</div>
<div class="t" style="left:261px;top:865px;">50-60</div>
<div class="t" style="left:365px;top:865px;">50-60</div>
<div class="t" style="left:471px;top:865px;">50-60</div>
<div class="t" style="left:575px;top:865px;">50-60</div>
<div class="t" style="left:682px;top:865px;">50-60</div>
<div class="t" style="left:793px;top:865px;">50-60</div>
<div class="t" style="left:16px;top:916px;transform:scaleX(0.974);transform-origin:0 0;">Design fuel</div>
<div class="tb" style="left:343px;top:916px;letter-spacing:-0.06px">Natural gas/liquefied petroleum gas/city gas/light diesel/heavy oil</div>
<div class="t" style="left:16px;top:942px;">fuel</div>
<div class="t" style="left:16px;top:967px;">consumpti</div>
<div class="t" style="left:16px;top:992px;">on</div>
<div class="t" style="left:113px;top:942px;">gas</div>
<div class="t" style="left:196px;top:942px;">m<span style='font-size:9px;position:relative;top:-7px;margin-left:0.5px'>3</span> <span style='display:inline-block;transform:scaleX(1.3);margin:0 1.5px 0 1px'>/</span>h</div>
<div class="t" style="left:261px;top:942px;">285</div>
<div class="t" style="left:365px;top:942px;">356</div>
<div class="t" style="left:471px;top:942px;">428</div>
<div class="t" style="left:575px;top:942px;">455</div>
<div class="t" style="left:682px;top:942px;">720</div>
<div class="t" style="left:793px;top:942px;">1080</div>
<div class="t" style="left:113px;top:968px;">light oil</div>
<div class="t" style="left:196px;top:968px;">Kg/h</div>
<div class="t" style="left:261px;top:968px;">254</div>
<div class="t" style="left:365px;top:968px;">318</div>
<div class="t" style="left:471px;top:968px;">381</div>
<div class="t" style="left:575px;top:968px;">498</div>
<div class="t" style="left:682px;top:968px;">636</div>
<div class="t" style="left:793px;top:968px;">960</div>
<div class="t" style="left:16px;top:1017px;">Inlet and outlet caliber</div>
<div class="t" style="left:196px;top:1017px;">DN</div>
<div class="t" style="left:261px;top:1017px;">125</div>
<div class="t" style="left:365px;top:1017px;">125</div>
<div class="t" style="left:471px;top:1017px;">150</div>
<div class="t" style="left:575px;top:1017px;">200</div>
<div class="t" style="left:682px;top:1017px;">200</div>
<div class="t" style="left:793px;top:1017px;">250</div>
<div class="t" style="left:16px;top:1051px;transform:scaleX(0.966);transform-origin:0 0;">Heating area</div>
<div class="t" style="left:196px;top:1052px;">M<span style='font-size:9px;position:relative;top:-7px;margin-left:0.5px'>2</span></div>
<div class="t" style="left:261px;top:1051px;">24000</div>
<div class="t" style="left:365px;top:1051px;">30000</div>
<div class="t" style="left:471px;top:1051px;">36000</div>
<div class="t" style="left:575px;top:1051px;">48000</div>
<div class="t" style="left:682px;top:1051px;">60000</div>
<div class="t" style="left:793px;top:1051px;">90000</div>
<div class="t" style="left:16px;top:1077px;transform:scaleX(0.972);transform-origin:0 0;">Gas combustion engine</div>
<div class="t" style="left:196px;top:1077px;">model</div>
<div class="t" style="left:261px;top:1077px;transform:scaleX(0.927);transform-origin:0 0;">TBG360MC</div>
<div class="t" style="left:365px;top:1077px;transform:scaleX(0.97);transform-origin:0 0;">BGN510MC</div>
<div class="t" style="left:471px;top:1077px;transform:scaleX(0.971);transform-origin:0 0;">GI700MC</div>
<div class="t" style="left:575px;top:1077px;transform:scaleX(0.922);transform-origin:0 0;">TBG800MC</div>
<div class="t" style="left:682px;top:1077px;transform:scaleX(0.947);transform-origin:0 0;">TBG1100MC</div>
<div class="t" style="left:793px;top:1077px;transform:scaleX(0.948);transform-origin:0 0;">TBG1600MC</div>
<div class="t" style="left:16px;top:1111px;transform:scaleX(0.983);transform-origin:0 0;">Fuel burning machine</div>
<div class="t" style="left:196px;top:1111px;">model</div>
<div class="t" style="left:261px;top:1111px;transform:scaleX(0.922);transform-origin:0 0;">BT300DSG4t</div>
<div class="t" style="left:365px;top:1111px;transform:scaleX(0.906);transform-origin:0 0;">GI350DSPG</div>
<div class="t" style="left:471px;top:1111px;transform:scaleX(0.899);transform-origin:0 0;">GI420DSPG</div>
<div class="t" style="left:575px;top:1111px;transform:scaleX(0.901);transform-origin:0 0;">GI510DSPG</div>
<div class="t" style="left:682px;top:1111px;transform:scaleX(0.897);transform-origin:0 0;">GI1000DSPG</div>
<div class="t" style="left:793px;top:1111px;">/</div>
<div class="t" style="left:16px;top:1137px;">transport</div>
<div class="t" style="left:16px;top:1162px;transform:scaleX(0.935);transform-origin:0 0;">size</div>
<div class="t" style="left:98px;top:1137px;">L</div>
<div class="t" style="left:196px;top:1137px;">mm</div>
<div class="t" style="left:261px;top:1137px;">5150</div>
<div class="t" style="left:365px;top:1137px;">5520</div>
<div class="t" style="left:471px;top:1137px;">5950</div>
<div class="t" style="left:575px;top:1137px;">6320</div>
<div class="t" style="left:682px;top:1137px;">6850</div>
<div class="t" style="left:98px;top:1162px;">D</div>
<div class="t" style="left:196px;top:1162px;">mm</div>
<div class="t" style="left:261px;top:1162px;">1800</div>
<div class="t" style="left:365px;top:1162px;">2100</div>
<div class="t" style="left:471px;top:1162px;">2200</div>
<div class="t" style="left:575px;top:1162px;">2300</div>
<div class="t" style="left:682px;top:1162px;">2600</div>
<div class="t" style="left:98px;top:1188px;">H</div>
<div class="t" style="left:196px;top:1188px;">mm</div>
<div class="t" style="left:261px;top:1188px;">2520</div>
<div class="t" style="left:365px;top:1188px;">2970</div>
<div class="t" style="left:471px;top:1188px;">3200</div>
<div class="t" style="left:575px;top:1188px;">3200</div>
<div class="t" style="left:682px;top:1188px;">3300</div>
<div class="t" style="left:16px;top:1214px;">Transport weight</div>
<div class="t" style="left:196px;top:1214px;">kg</div>
<div class="t" style="left:261px;top:1214px;">8580</div>
<div class="t" style="left:365px;top:1214px;">12100</div>
<div class="t" style="left:471px;top:1214px;">13900</div>
<div class="t" style="left:575px;top:1214px;">1700</div>
<div class="t" style="left:682px;top:1214px;">24500</div>
<div class="t" style="left:793px;top:1214px;">38000</div>
</body></html>
